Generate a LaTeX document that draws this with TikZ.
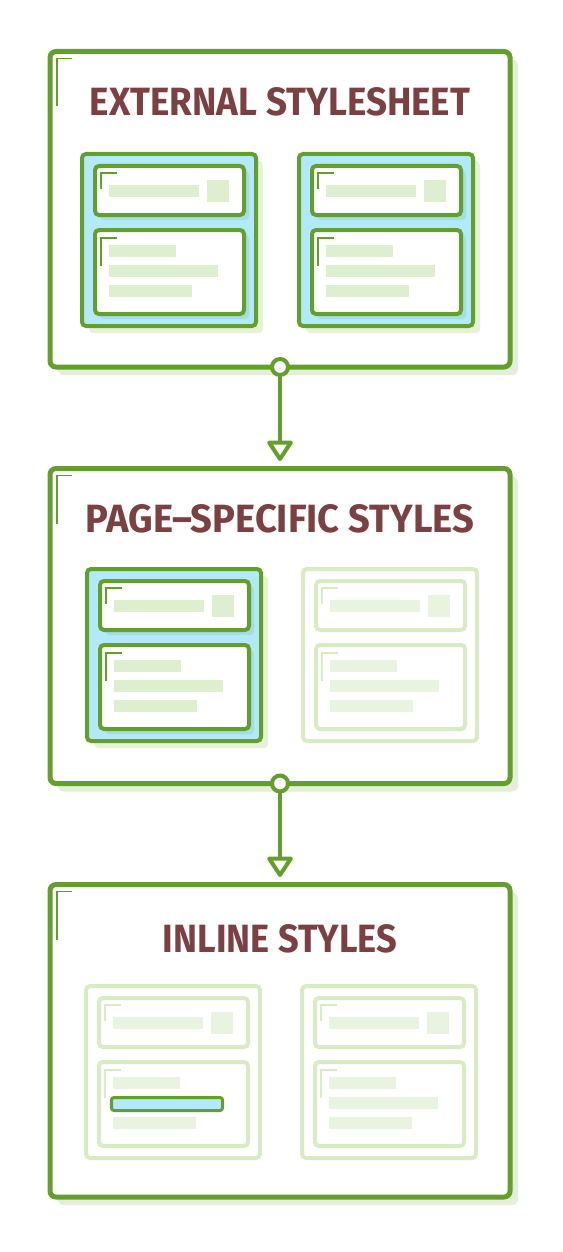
\documentclass[tikz,border=0pt]{standalone}
\usepackage{fontspec}
\newfontfamily\ttlfont{Fira Sans}
\usetikzlibrary{arrows.meta,shadows}
\definecolor{grn}{HTML}{63A02B}
\definecolor{lblue}{HTML}{B2E9FB}
\definecolor{bshadow}{HTML}{E3EFDB}
\definecolor{pshadow}{HTML}{E5F2D3}
\definecolor{cshadow}{HTML}{A7DDE0}
\definecolor{barc}{HTML}{DDEFCF}
\definecolor{fadestroke}{HTML}{D8EBC3}
\definecolor{fadebar}{HTML}{E9F4E0}
\definecolor{ttlc}{HTML}{7C4043}
\tikzset{
  bigbox/.style={draw=grn, line width=5pt, fill=white, rounded corners=6pt, inner sep=0pt, outer sep=0pt,
    drop shadow={shadow xshift=8pt, shadow yshift=-8pt, fill=bshadow, opacity=1}},
  cornermk/.style={draw=grn, line width=1.7pt},
  ttl/.style={inner sep=0pt, outer sep=0pt, text=ttlc, font=\ttlfont\bfseries},
  dot/.style={circle, draw=grn, line width=4pt, fill=white, minimum size=16pt, inner sep=0pt, outer sep=0pt},
  conn/.style={draw=grn, line width=4pt, -{Triangle[open, length=22pt, width=28pt, round]}, shorten >=7.5pt},
  pframe/.style={line width=4pt, rounded corners=4pt},
  cardmk/.style={line width=1.6pt},
}
\newcommand\activepanel[2]{%
  \begin{scope}[shift={(#1,#2)}]
    \fill[pshadow, rounded corners=4pt] (9,9) rectangle (183,181);
    \draw[pframe, draw=grn, fill=lblue] (2,2) rectangle (176,174);
    \fill[cshadow, rounded corners=4pt] (20,19) rectangle (169,68);
    \fill[cshadow, rounded corners=4pt] (20,83) rectangle (169,167);
    \draw[pframe, draw=grn, fill=white] (15,14) rectangle (164,63);
    \draw[pframe, draw=grn, fill=white] (15,78) rectangle (164,162);
    \draw[cardmk, draw=grn] (21,37) -- (21,21) -- (37,21);
    \draw[cardmk, draw=grn] (21,114) -- (21,86) -- (37,86);
    \fill[barc] (29,33) rectangle (119,45);
    \fill[barc] (127,28) rectangle (149,50);
    \fill[barc] (29,93) rectangle (96,105);
    \fill[barc] (29,113) rectangle (138,125);
    \fill[barc] (29,133) rectangle (112,145);
  \end{scope}}
\newcommand\fadedpanel[2]{%
  \begin{scope}[shift={(#1,#2)}]
    \draw[pframe, draw=fadestroke, fill=white] (2,2) rectangle (176,174);
    \draw[pframe, draw=fadestroke, fill=white] (15,14) rectangle (164,63);
    \draw[pframe, draw=fadestroke, fill=white] (15,78) rectangle (164,162);
    \draw[cardmk, draw=fadestroke] (21,37) -- (21,21) -- (37,21);
    \draw[cardmk, draw=fadestroke] (21,114) -- (21,86) -- (37,86);
    \fill[fadebar] (29,33) rectangle (119,45);
    \fill[fadebar] (127,28) rectangle (149,50);
    \fill[fadebar] (29,93) rectangle (96,105);
    \fill[fadebar] (29,113) rectangle (138,125);
    \fill[fadebar] (29,133) rectangle (112,145);
  \end{scope}}
\begin{document}
\begin{tikzpicture}[x=1pt, y=-1pt]
  \useasboundingbox[fill=white] (0,0) rectangle (562,1252);
  % big boxes
  \node[bigbox, minimum width=460pt, minimum height=315.5pt] (b1) at (280,209.25) {};
  \node[bigbox, minimum width=460pt, minimum height=315pt] (b2) at (280,626) {};
  \node[bigbox, minimum width=460pt, minimum height=312.5pt] (b3) at (280,1040.75) {};
  % corner marks
  \foreach \b in {b1,b2,b3}{
    \draw[cornermk] ([shift={(7,55)}]\b.north west) -- ([shift={(7,7)}]\b.north west) -- ([shift={(22,7)}]\b.north west);
  }
  % titles
  \node[ttl] (t1) at (280,102) {\resizebox{380pt}{28pt}{EXTERNAL STYLESHEET}};
  \node[ttl] (t2) at (280,518.5) {\resizebox{388pt}{28pt}{PAGE–SPECIFIC STYLES}};
  \node[ttl] (t3) at (280,938.5) {\resizebox{234pt}{28pt}{INLINE STYLES}};
  % panels
  \activepanel{80}{152}
  \activepanel{297}{152}
  \activepanel{85}{567}
  \fadedpanel{301}{567}
  \fadedpanel{84}{984}
  \fadedpanel{300}{984}
  % inline highlight
  \draw[draw=grn, fill=lblue, line width=3pt, rounded corners=2.5pt] (111.5,1097.5) rectangle (222.5,1110.5);
  % connectors
  \node[dot] (c1) at (b1.south) {};
  \node[dot] (c2) at (b2.south) {};
  \draw[conn] (c1.south) -- (b2.north);
  \draw[conn] (c2.south) -- (b3.north);
\end{tikzpicture}
\end{document}
